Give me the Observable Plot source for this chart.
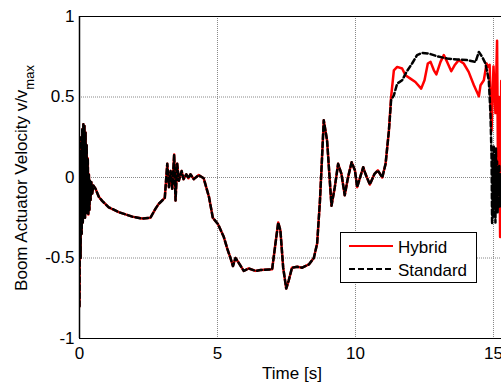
<!DOCTYPE html>
<html><head><meta charset="utf-8">
<script src="https://cdn.jsdelivr.net/npm/d3@7"></script>
<script src="https://cdn.jsdelivr.net/npm/@observablehq/plot@0.6"></script>
<style>body{margin:0;background:#fff;overflow:hidden;}</style>
</head><body><div id="chart"></div>
<script>
// Shared portion (both controllers identical)
const tShared = [0.00,0.02,0.04,0.06,0.08,0.10,0.12,0.14,0.16,0.18,0.20,0.22,0.24,0.26,0.28,0.30,0.32,0.34,0.36,0.38,0.40,0.43,0.46,0.50,0.58,0.70,0.82,1.06,1.42,1.91,2.27,2.57,2.75,2.87,3.09,3.18,3.24,3.30,3.36,3.43,3.48,3.54,3.60,3.70,3.77,3.87,3.95,4.02,4.14,4.32,4.50,4.69,4.83,5.02,5.23,5.35,5.47,5.56,5.65,5.77,5.95,6.13,6.38,6.56,6.98,7.10,7.20,7.28,7.38,7.49,7.58,7.70,7.89,8.07,8.31,8.49,8.61,8.71,8.77,8.85,8.97,9.13,9.25,9.37,9.49,9.61,9.73,9.86,9.98,10.06,10.28,10.36,10.52,10.69,10.81,10.97,11.09,11.21];
const vShared = [-0.80,0.15,-0.50,0.25,-0.35,0.30,-0.28,0.33,-0.20,0.32,-0.25,0.28,-0.18,0.20,-0.22,0.12,-0.23,0.02,-0.20,-0.02,-0.14,-0.03,-0.10,-0.05,-0.07,-0.12,-0.145,-0.185,-0.215,-0.243,-0.255,-0.25,-0.195,-0.164,-0.127,0.085,-0.06,0.04,-0.07,0.143,-0.143,0.085,-0.02,0.04,-0.01,0.02,-0.005,0.02,-0.01,0.015,-0.005,-0.12,-0.25,-0.29,-0.37,-0.44,-0.50,-0.55,-0.50,-0.53,-0.58,-0.565,-0.58,-0.575,-0.57,-0.41,-0.28,-0.33,-0.56,-0.69,-0.64,-0.56,-0.555,-0.56,-0.54,-0.50,-0.41,-0.15,0.06,0.355,0.23,-0.175,-0.06,0.085,0.023,-0.11,0.002,0.095,0.044,-0.06,0.064,0.023,-0.044,0.023,0.044,0.0,0.085,0.29];
// Hybrid tail
const tHybridEnd = [11.29,11.39,11.51,11.69,11.81,11.99,12.17,12.38,12.50,12.62,12.72,12.84,12.93,13.08,13.20,13.32,13.47,13.59,13.74,13.92,14.10,14.29,14.47,14.53,14.65,14.75,14.80,14.86,14.93,15.00,15.07,15.13,15.17,15.20,15.24,15.28];
const vHybridEnd = [0.50,0.666,0.687,0.677,0.635,0.614,0.593,0.552,0.604,0.708,0.718,0.666,0.64,0.718,0.76,0.718,0.66,0.697,0.729,0.708,0.656,0.573,0.504,0.573,0.604,0.708,0.687,0.70,0.29,0.69,0.40,0.85,-0.10,0.50,-0.37,0.60];
// Standard tail
const tStandardEnd = [11.29,11.39,11.51,11.69,11.85,12.05,12.23,12.41,12.65,12.96,13.32,13.68,14.05,14.35,14.47,14.59,14.71,14.83,14.89,14.93,14.95,14.97,14.99,15.01,15.03,15.05,15.07,15.09,15.11,15.13,15.15,15.17,15.19,15.21,15.23,15.25,15.27,15.29];
const vStandardEnd = [0.48,0.51,0.583,0.604,0.656,0.708,0.76,0.774,0.77,0.753,0.739,0.733,0.729,0.718,0.78,0.749,0.708,0.604,0.397,0.127,-0.29,0.15,-0.25,0.20,-0.20,0.12,-0.28,0.18,-0.15,0.10,-0.22,0.05,-0.10,0.08,-0.18,0.02,-0.12,0.0];

const xTicks = [0, 5, 10, 15];
const yTicks = [-1, -0.5, 0, 0.5, 1];
const seriesNames = ["Hybrid", "Standard"];

const toRows = (ts, vs) => ts.map((t, i) => ({t, v: vs[i]}));
const hybrid = toRows(tShared.concat(tHybridEnd), vShared.concat(vHybridEnd));
const standard = toRows(tShared.concat(tStandardEnd), vShared.concat(vStandardEnd));

const font = "'Liberation Sans', Arial, sans-serif";
const chart = Plot.plot({
  width: 501, height: 383,
  marginLeft: 79, marginRight: 0, marginTop: 16, marginBottom: 45,
  style: {fontFamily: font, fontSize: "17px", background: "white", color: "black"},
  x: {domain: [0, 15.29]},
  y: {domain: [-1, 1]},
  marks: [
    Plot.gridX(xTicks, {stroke: "#888", strokeOpacity: 1, strokeDasharray: "1,1"}),
    Plot.gridY(yTicks, {stroke: "#888", strokeOpacity: 1, strokeDasharray: "1,1"}),
    Plot.line(hybrid, {x: "t", y: "v", stroke: "#ff0000", strokeWidth: 2.5, clip: true}),
    Plot.line(standard, {x: "t", y: "v", stroke: "black", strokeWidth: 2.5, strokeDasharray: "5,3", clip: true}),
    Plot.ruleX([0], {stroke: "black", strokeWidth: 1.5}),
    Plot.ruleY([-1, 1], {stroke: "black", strokeWidth: 1.2}),
    Plot.axisX(xTicks, {tickSize: 0, tickPadding: 8, label: null, tickFormat: d => String(d), fontSize: 17}),
    Plot.axisY(yTicks, {tickSize: 0, tickPadding: 5, label: null, tickFormat: d => String(d), fontSize: 17})
  ]
});
document.getElementById("chart").appendChild(chart);

const svg = d3.select(chart);
// axis titles
const yl = svg.append("text")
  .attr("transform", "translate(27,178) rotate(-90)")
  .attr("text-anchor", "middle")
  .attr("font-family", font).attr("font-size", 17).attr("fill", "black");
yl.append("tspan").text("Boom Actuator Velocity v/v");
yl.append("tspan").attr("font-size", 13).attr("dy", 7).text("max");
svg.append("text").attr("x", 292).attr("y", 379).attr("text-anchor", "middle")
  .attr("font-family", font).attr("font-size", 17).attr("fill", "black").text("Time [s]");

// legend
const lg = svg.append("g");
lg.append("rect").attr("x", 340.5).attr("y", 232.5).attr("width", 136).attr("height", 50)
  .attr("fill", "white").attr("stroke", "black").attr("stroke-width", 1);
const styles = [{stroke: "#ff0000", dash: null}, {stroke: "black", dash: "6,3"}];
seriesNames.forEach((name, i) => {
  const y = 246 + i * 23;
  lg.append("line").attr("x1", 349).attr("x2", 393).attr("y1", y).attr("y2", y)
    .attr("stroke", styles[i].stroke).attr("stroke-width", 2).attr("stroke-dasharray", styles[i].dash);
  lg.append("text").attr("x", 398).attr("y", y + 6.5).attr("text-anchor", "start")
    .attr("font-family", font).attr("font-size", 17).attr("fill", "black").text(name);
});
</script>
</body></html>
